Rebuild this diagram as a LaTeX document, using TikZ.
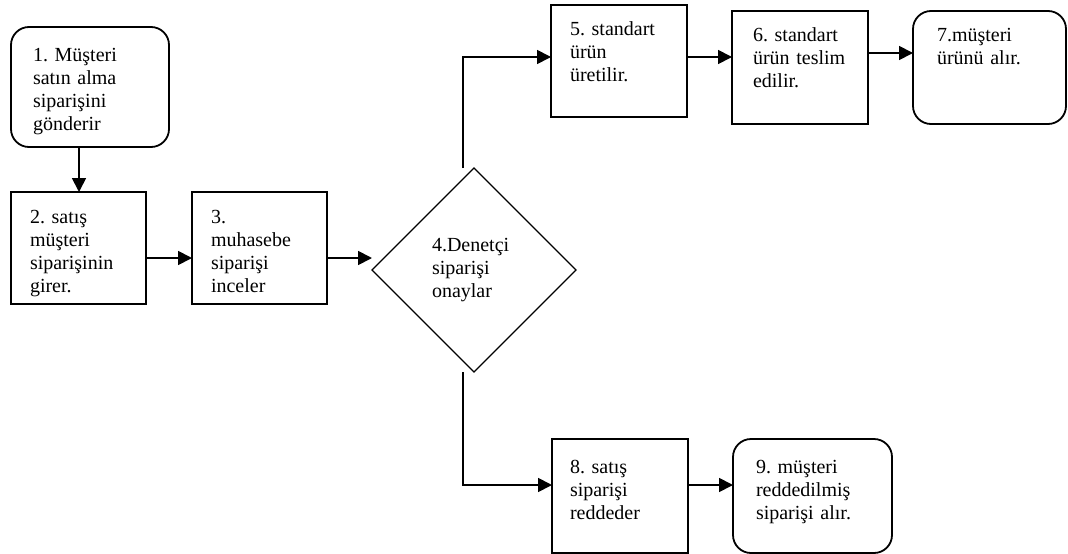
\documentclass[tikz,border=0pt]{standalone}
\usepackage{fontspec}
\setmainfont{Liberation Serif}
\usetikzlibrary{shapes.geometric,arrows.meta}
\frenchspacing

\tikzset{
  kutu/.style={draw, line width=1.8pt, anchor=north west, align=left,
    inner ysep=0pt, outer sep=0pt},
  yuvarlak/.style={kutu, rounded corners=18pt},
  karar/.style={draw, diamond, line width=1.3pt, minimum width=204pt,
    minimum height=204pt, inner sep=0pt, outer sep=0pt, align=left,
    text width=84pt},
  ok/.style={->, line width=1.8pt},
}

\begin{document}
\begin{tikzpicture}[x=1pt, y=-1pt, >={Triangle[length=14pt,width=14pt]},
    font=\fontsize{20pt}{23pt}\selectfont]

  \useasboundingbox (0,0) rectangle (1068,554);

  % Siparis adimlari
  \node[yuvarlak, text width=114pt, inner xsep=22pt, text height=34pt, text depth=86pt]
    (b1) at (11,27) {1. Müşteri\\satın alma\\siparişini\\gönderir};
  \node[kutu, text width=97pt, inner xsep=19pt, text height=31pt, text depth=81pt]
    (b2) at (11,192) {2. satış\\müşteri\\siparişinin\\girer.};
  \node[kutu, text width=97pt, inner xsep=19pt, text height=31pt, text depth=81pt]
    (b3) at (192,192) {3.\\muhasebe\\siparişi\\inceler};

  % Karar
  \node[karar] (dia) at (474,270) {4.Denetçi\\siparişi\\onaylar};

  % Onay kolu
  \node[kutu, text width=98pt, inner xsep=19pt, text height=30pt, text depth=82pt]
    (b5) at (551,5) {5. standart\\ürün\\üretilir.};
  \node[kutu, text width=94pt, inner xsep=21pt, text height=30pt, text depth=83pt]
    (b6) at (732,11) {6. standart\\ürün teslim\\edilir.};
  \node[yuvarlak, text width=105pt, inner xsep=24pt, text height=30pt, text depth=83pt]
    (b7) at (913,11) {7.müşteri\\ürünü alır.};

  % Ret kolu
  \node[kutu, text width=100pt, inner xsep=18pt, text height=34pt, text depth=80pt]
    (b8) at (552,439) {8. satış\\siparişi\\reddeder};
  \node[yuvarlak, text width=113pt, inner xsep=23pt, text height=34pt, text depth=80pt]
    (b9) at (733,439) {9. müşteri\\reddedilmiş\\siparişi alır.};

  % Baglantilar
  \draw[ok] ([xshift=-11pt]b1.south) -- ([xshift=-11pt]b1.south |- b2.north);
  \draw[ok] ([yshift=-10pt]b2.east) -- ([yshift=-10pt]b2.east -| b3.west);
  \draw[ok] ([yshift=-10pt]b3.east) -- ([yshift=-10pt]b3.east -| dia.west);
  \draw[ok] ([xshift=-11pt]dia.north) |- ([yshift=4pt]b5.west);
  \draw[ok] ([yshift=4pt]b5.east) -- ([yshift=4pt]b5.east -| b6.west);
  \draw[ok] ([yshift=14.5pt]b6.east) -- ([yshift=14.5pt]b6.east -| b7.west);
  \draw[ok] ([xshift=-11pt]dia.south) |- ([yshift=11pt]b8.west);
  \draw[ok] ([yshift=11pt]b8.east) -- ([yshift=11pt]b8.east -| b9.west);

\end{tikzpicture}
\end{document}
